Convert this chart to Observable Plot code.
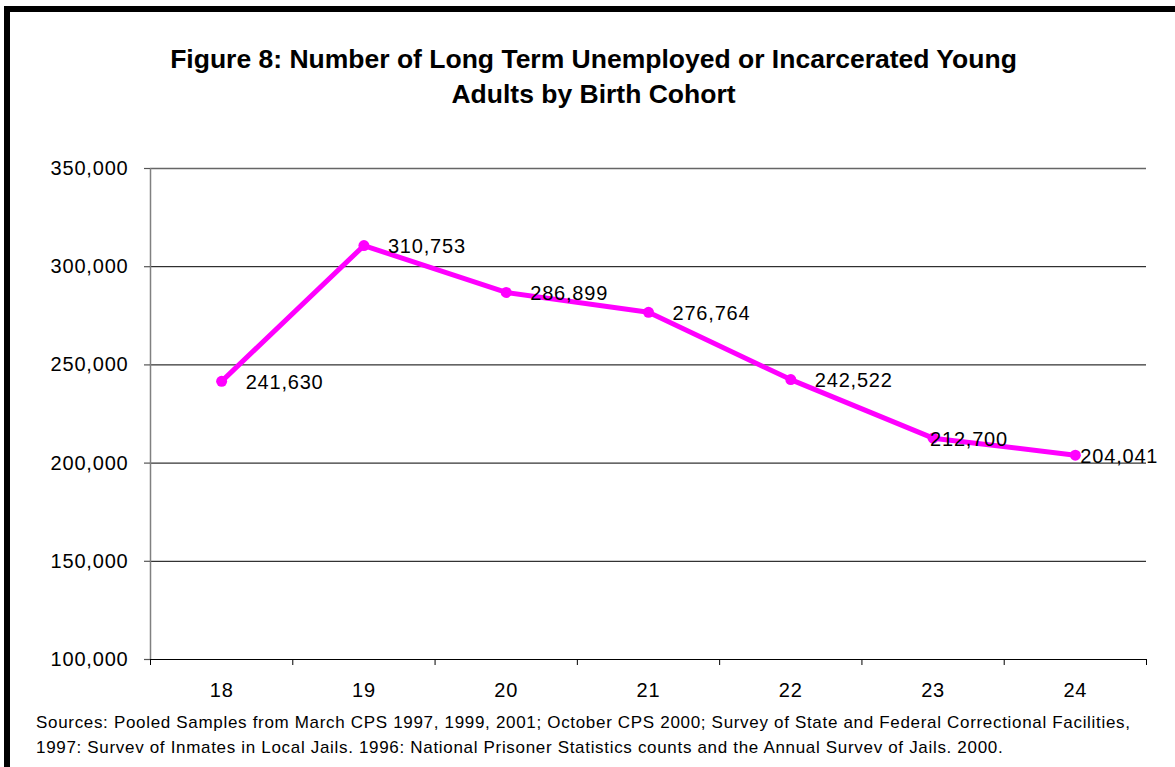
<!DOCTYPE html>
<html>
<head>
<meta charset="utf-8">
<script src="https://cdn.jsdelivr.net/npm/d3@7"></script>
<script src="https://cdn.jsdelivr.net/npm/@observablehq/plot@0.6"></script>
<style>
  html, body { margin: 0; padding: 0; background: #fff; }
  body { width: 1175px; height: 767px; position: relative; overflow: hidden; font-family: "Liberation Sans", Arial, sans-serif; }
  #frame { position: absolute; left: 4px; top: 6px; width: 1300px; height: 900px; border-left: 6px solid #000; border-top: 6px solid #000; box-sizing: border-box; }
  #title { position: absolute; left: 0; top: 42px; width: 1187px; text-align: center; font-weight: bold; font-size: 26.5px; line-height: 35px; color: #000; }
  #chart { position: absolute; left: 0; top: 140px; }
  #caption { position: absolute; left: 36px; top: 710px; font-size: 17px; letter-spacing: 0.68px; line-height: 25px; color: #000; white-space: nowrap; }
</style>
</head>
<body>
<div id="frame"></div>
<div id="title">Figure 8: Number of Long Term Unemployed or Incarcerated Young<br>Adults by Birth Cohort</div>
<div id="chart"></div>
<div id="caption">Sources: Pooled Samples from March CPS 1997, 1999, 2001; October CPS 2000; Survey of State and Federal Correctional Facilities,<br>1997: Survev of Inmates in Local Jails. 1996: National Prisoner Statistics counts and the Annual Survev of Jails. 2000.</div>
<script>
const cohorts = [18, 19, 20, 21, 22, 23, 24];
const counts = [241630, 310753, 286899, 276764, 242522, 212700, 204041];
const yTicks = [100000, 150000, 200000, 250000, 300000, 350000];

const data = cohorts.map((c, i) => ({cohort: c, value: counts[i]}));
const bounds = cohorts.map(c => c - 0.5).concat([cohorts[cohorts.length - 1] + 0.5]);
const fmt = d3.format(",");
const magenta = "#FF00FF";

const chart = Plot.plot({
  width: 1175,
  height: 560,
  marginLeft: 150,
  marginRight: 29,
  marginTop: 28,
  marginBottom: 41,
  style: {fontFamily: "'Liberation Sans', Arial, sans-serif", fontSize: "20px", color: "#000", background: "transparent", letterSpacing: "0.8px"},
  x: {type: "linear", domain: [bounds[0], bounds[bounds.length - 1]], label: null},
  y: {domain: [yTicks[0], yTicks[yTicks.length - 1]], label: null},
  marks: [
    Plot.ruleY(yTicks.slice(1, -1), {stroke: "#000", strokeWidth: 1}),
    Plot.ruleY(yTicks.slice(-1), {stroke: "#666", strokeWidth: 1.5}),
    Plot.ruleY(yTicks.slice(0, 1), {stroke: "#000", strokeWidth: 1.2}),
    Plot.ruleX(bounds.slice(0, 1), {stroke: "#808080", strokeWidth: 1.5}),
    Plot.axisY({ticks: yTicks, tickFormat: fmt, tickSize: 6, tickPadding: 16, stroke: "#555", strokeWidth: 1.2, label: null}),
    Plot.axisX({ticks: bounds, tickFormat: () => "", tickSize: 6, stroke: "#000", strokeWidth: 1, label: null}),
    Plot.axisX({ticks: cohorts, tickFormat: d => String(d), tickSize: 0, tickPadding: 23, label: null}),
    Plot.line(data, {x: "cohort", y: "value", stroke: magenta, strokeWidth: 5}),
    Plot.dot(data, {x: "cohort", y: "value", r: 5.5, fill: magenta}),
    Plot.text(data.slice(0, 5), {x: "cohort", y: "value", text: d => fmt(d.value), textAnchor: "start", dx: 24, dy: 1, fill: "#000"}),
    Plot.text(data.slice(5, 6), {x: "cohort", y: "value", text: d => fmt(d.value), textAnchor: "start", dx: -3, dy: 1, fill: "#000"}),
    Plot.text(data.slice(6), {x: "cohort", y: "value", text: d => fmt(d.value), textAnchor: "start", dx: 5, dy: 1, fill: "#000"})
  ]
});
document.getElementById("chart").appendChild(chart);
</script>
</body>
</html>
